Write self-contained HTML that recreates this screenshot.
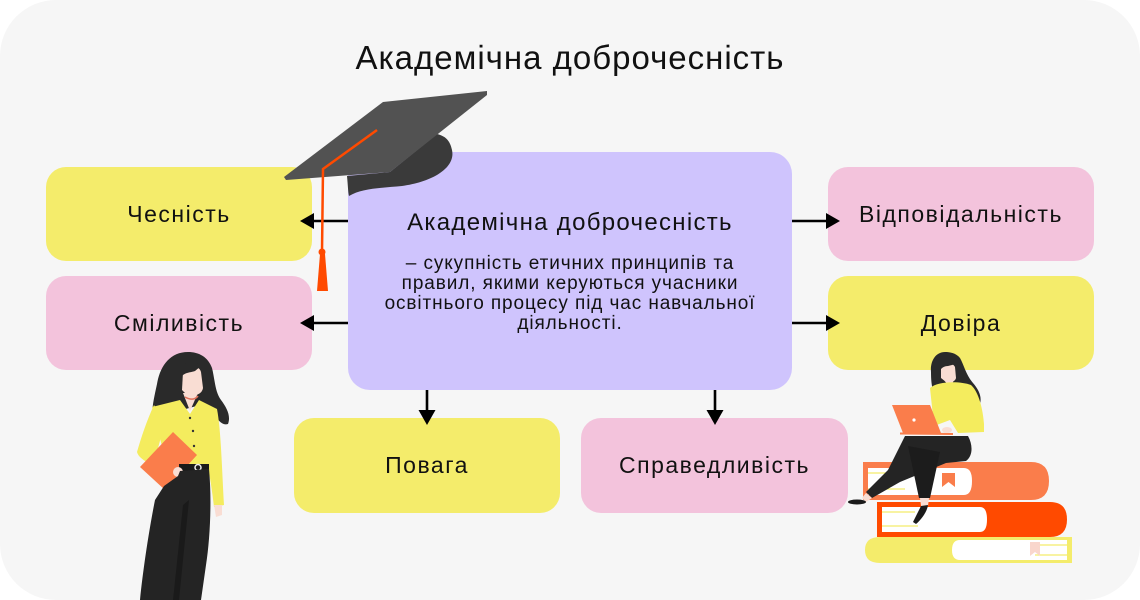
<!DOCTYPE html>
<html>
<head>
<meta charset="utf-8">
<style>
  html,body{margin:0;padding:0;background:#ffffff;}
  #wrap{position:relative;width:1140px;height:600px;overflow:hidden;background:#ffffff;}
  #panel{position:absolute;left:0;top:0;width:1140px;height:600px;background:#f6f6f6;border-radius:56px;}
  .t{position:absolute;font-family:"Liberation Sans","Noto Sans CJK SC",sans-serif;color:#111;white-space:nowrap;}
  .box{position:absolute;border-radius:20px;display:flex;align-items:center;justify-content:center;
       font-family:"Liberation Sans","Noto Sans CJK SC",sans-serif;font-size:23px;letter-spacing:1.5px;color:#111;}
  .y{background:#f4ec6b;}
  .p{background:#f3c3dc;}
  svg{position:absolute;left:0;top:0;}
</style>
</head>
<body>
<div id="wrap">
  <div id="panel"></div>

  <div class="t" style="left:0;width:1140px;top:41px;font-size:33px;line-height:33px;letter-spacing:1px;text-align:center;">Академічна доброчесність</div>

  <div class="box y" style="left:46px;top:167px;width:266px;height:94px;">Чесність</div>
  <div class="box p" style="left:46px;top:276px;width:266px;height:94px;">Сміливість</div>
  <div class="box p" style="left:828px;top:167px;width:266px;height:94px;">Відповідальність</div>
  <div class="box y" style="left:828px;top:276px;width:266px;height:94px;">Довіра</div>
  <div class="box y" style="left:294px;top:418px;width:266px;height:95px;">Повага</div>
  <div class="box p" style="left:581px;top:418px;width:267px;height:95px;">Справедливість</div>

  <div style="position:absolute;left:348px;top:152px;width:444px;height:238px;background:#cfc4fd;border-radius:22px;"></div>
  <div class="t" style="left:348px;width:444px;top:211px;font-size:24px;line-height:24px;letter-spacing:1.3px;text-align:center;">Академічна доброчесність</div>
  <div class="t" style="left:348px;width:444px;top:254px;font-size:19px;line-height:20px;letter-spacing:0.9px;text-align:center;white-space:normal;">– сукупність етичних принципів та<br>правил, якими керуються учасники<br>освітнього процесу під час навчальної<br>діяльності.</div>

  <svg width="1140" height="600" viewBox="0 0 1140 600">
    <!-- arrows -->
    <g stroke="#000" stroke-width="2.6" fill="none">
      <line x1="348" y1="221" x2="312" y2="221"/>
      <line x1="348" y1="323" x2="312" y2="323"/>
      <line x1="792" y1="221" x2="828" y2="221"/>
      <line x1="792" y1="323" x2="828" y2="323"/>
      <line x1="427" y1="390" x2="427" y2="412"/>
      <line x1="715" y1="390" x2="715" y2="412"/>
    </g>
    <g fill="#000">
      <polygon points="300,221 314,213 314,229"/>
      <polygon points="300,323 314,315 314,331"/>
      <polygon points="840,221 826,213 826,229"/>
      <polygon points="840,323 826,315 826,331"/>
      <polygon points="427,425 418.5,410 435.5,410"/>
      <polygon points="715,425 706.5,410 723.5,410"/>
    </g>

    <!-- graduation hat -->
    <path d="M347,176 C348,186 348,192 349,196 C362,188 382,188 402,186 C432,182 456,168 452,150 C450,140 445,136 437,134 L390,172 Z" fill="#3a3a3a"/>
    <polygon points="284,177 383,102 487,91 487,95 390,172 286,180" fill="#525252"/>
    <polyline points="377,130 323,169 322,252" fill="none" stroke="#ff4a00" stroke-width="2.5"/>
    <circle cx="322" cy="252" r="3.5" fill="#ff4a00"/>
    <polygon points="320,254 325,254 328,291 317,291" fill="#ff4a00"/>

    <!-- left woman -->
    <path d="M188,352 C170,352 160,366 157,384 C154,398 151,410 153,420 L175,412 L200,405 L212,412 C218,420 222,426 228,424 C231,416 227,408 221,400 C215,392 215,380 212,368 C208,357 199,352 188,352 Z" fill="#2a2a2a"/>
    <path d="M183,372 C185,364 199,364 201,372 L203,388 C202,394 196,396 190,395 L186,394 L182,390 Z" fill="#f9ddd3"/>
    <path d="M178,372 C182,362 194,359 201,366 L195,371 C189,373 185,372 180,378 Z" fill="#2a2a2a"/>
    <path d="M183,393 L198,393 L190,411 Z" fill="#f9ddd3"/>
    <path d="M185,397 C190,400 195,400 198,396" stroke="#e0705a" stroke-width="1.5" fill="none"/>
    <path d="M152,407 L180,400 L190,414 L199,400 L217,409 C221,430 222,470 224,505 L214,507 C212,490 210,478 208,466 L180,469 L168,470 Z" fill="#f4ec5e"/>
    <path d="M154,405 C147,420 141,438 137,452 C139,461 160,469 176,475 L181,465 L157,452 L165,422 Z" fill="#f4ec5e"/>
    <polygon points="173,432 197,455 165,490 140,467" fill="#fa7d4b"/>
    <rect x="179" y="464" width="30" height="7" fill="#1a1a1a"/>
    <circle cx="198" cy="467.5" r="3" fill="none" stroke="#eee" stroke-width="1.5"/>
    <circle cx="178" cy="472" r="5" fill="#f9ddd3"/>
    <path d="M214,505 L222,505 L222,515 L216,517 Z" fill="#f9ddd3"/>
    <circle cx="190" cy="418" r="1.2" fill="#333"/>
    <circle cx="193" cy="431" r="1.2" fill="#333"/>
    <circle cx="194" cy="446" r="1.2" fill="#333"/>
    <path d="M180,471 L209,469 C212,500 210,540 206,565 L201,600 L140,600 C143,570 149,530 155,500 L164,486 L178,476 Z" fill="#242424"/>
    <path d="M189,500 L179,600 L173,600 L183,505 Z" fill="#1a1a1a"/>

    <!-- books -->
    <path d="M863,462 H1031 Q1049,462 1049,481 Q1049,500 1031,500 H863 Z" fill="#fa7d4b"/>
    <path d="M868,468 H964 Q972,468 972,481 Q972,495 964,495 H868 Z" fill="#ffffff"/>
    <g stroke="#f4ec6b" stroke-width="1.2"><line x1="868" y1="473" x2="900" y2="473"/><line x1="868" y1="489" x2="905" y2="489"/></g>
    <polygon points="942,473 955,473 955,487 948.5,482 942,487" fill="#fa7d4b"/>
    <path d="M877,502 H1050 Q1067,502 1067,519.5 Q1067,537 1050,537 H877 Z" fill="#ff4a00"/>
    <path d="M882,507 H980 Q987,507 987,519.5 Q987,532 980,532 H882 Z" fill="#ffffff"/>
    <g stroke="#f4ec6b" stroke-width="1.2"><line x1="882" y1="512" x2="915" y2="512"/><line x1="882" y1="526" x2="918" y2="526"/></g>
    <path d="M880,537 H1072 V563 H880 Q865,563 865,550 Q865,537 880,537 Z" fill="#f4ec6b"/>
    <path d="M960,540 H1067 V560 H960 Q952,560 952,550 Q952,540 960,540 Z" fill="#ffffff"/>
    <g stroke="#f4ec6b" stroke-width="1.2"><line x1="1040" y1="545" x2="1067" y2="545"/><line x1="1035" y1="555" x2="1067" y2="555"/></g>
    <polygon points="1030,542 1040,542 1040,556 1035,552 1030,556" fill="#f9d6cc"/>

    <!-- right woman -->
    <path d="M945,352 C935,352 930,362 931,372 C931,382 932,390 935,395 L945,388 L960,385 C965,395 972,405 979,406 C983,398 979,390 973,383 C966,375 964,365 960,358 C956,353 950,352 945,352 Z" fill="#2a2a2a"/>
    <path d="M941,366 C942,362 952,361 955,367 L956,378 C955,382 950,383 946,382 L941,378 Z" fill="#f9ddd3"/>
    <path d="M938,364 C942,356 952,356 956,364 L948,366 C944,366 941,368 939,372 Z" fill="#2a2a2a"/>
    <path d="M944,380 L954,380 L950,388 Z" fill="#f9ddd3"/>
    <path d="M930,388 C938,381 960,381 971,385 C979,392 983,410 984,424 L984,432 L958,433 L950,420 L934,426 Z" fill="#f4ec5e"/>
    <polygon points="892,405 930,405 941,433 903,433" fill="#fa7d4b"/>
    <line x1="900" y1="433.5" x2="953" y2="434" stroke="#fa7d4b" stroke-width="2"/>
    <circle cx="914" cy="420" r="1.6" fill="#fff"/>
    <ellipse cx="947" cy="430" rx="5" ry="3" fill="#f9ddd3"/>
    <path d="M905,436 L968,436 C973,445 973,456 966,461 L946,463 L900,482 L872,498 L866,492 L888,470 Z" fill="#242424"/>
    <path d="M908,446 L940,452 L930,498 L919,498 Z" fill="#1c1c1c"/>
    <path d="M866,493 L872,498 L866,502 L862,498 Z" fill="#f9ddd3"/>
    <ellipse cx="857" cy="502" rx="9" ry="2.5" fill="#1a1a1a"/>
    <path d="M920,498 L929,498 L928,506 L921,506 Z" fill="#f9ddd3"/>
    <path d="M921,506 L928,505 C927,512 921,520 916,524 L913,522 Z" fill="#1a1a1a"/>
  </svg>
</div>
</body>
</html>
